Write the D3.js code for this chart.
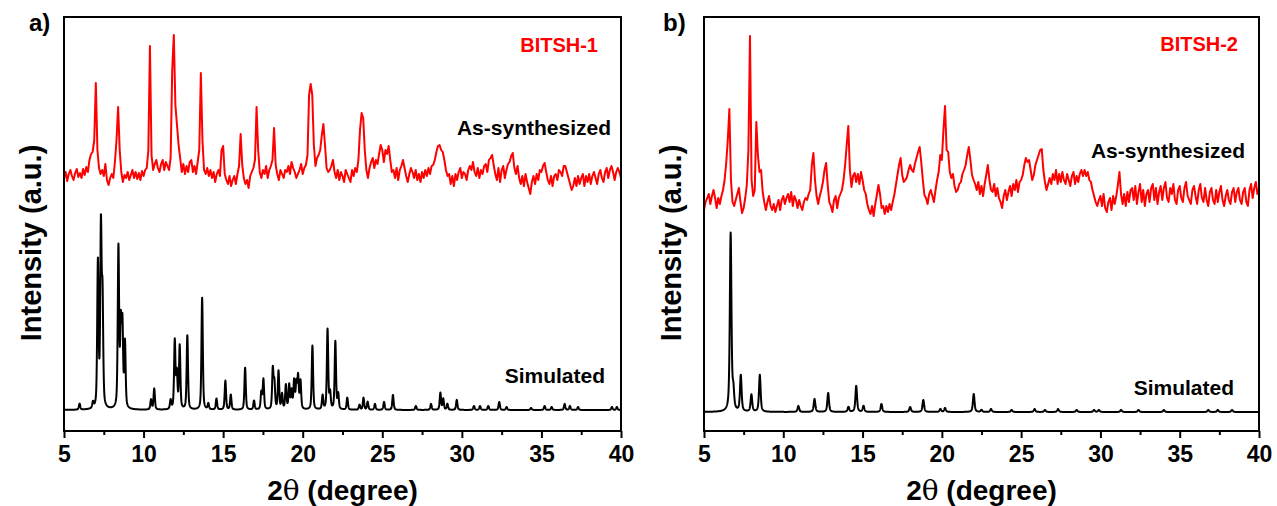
<!DOCTYPE html>
<html>
<head>
<meta charset="utf-8">
<script src="https://cdn.jsdelivr.net/npm/d3@7"></script>
<style>
  body { margin: 0; background: #fff; }
  svg { display: block; }
  text { font-family: "Liberation Sans", Arial, sans-serif; font-weight: bold; }
</style>
</head>
<body>
<svg id="chart" width="1277" height="506"></svg>
<script>
// ---- data -------------------------------------------------------------
const angleTicks = [5, 10, 15, 20, 25, 30, 35, 40];
const minorTicks = [7.5, 12.5, 17.5, 22.5, 27.5, 32.5, 37.5];
const panelLetters = ["a)", "b)"];
const sampleNames = ["BITSH-1", "BITSH-2"];
const traceNames = ["As-synthesized", "Simulated"];

// simulated reflections: [2θ (deg), intensity (a.u.)]
const simulated1 = [
  [5.98, 6], [6.82, 6], [7.13, 145], [7.32, 177], [7.42, 105], [8.42, 160], [8.57, 80],
  [8.67, 80], [8.83, 65], [10.47, 10], [10.67, 21], [11.70, 9], [11.96, 68], [12.09, 35],
  [12.27, 63], [12.75, 74], [13.68, 112], [14.07, 6], [14.58, 11], [15.14, 29], [15.48, 15],
  [16.38, 42], [16.94, 9], [17.40, 17], [17.53, 30], [18.12, 40], [18.22, 26], [18.48, 38],
  [18.70, 15], [18.94, 24], [19.15, 24], [19.30, 18], [19.46, 28], [19.60, 25], [19.71, 32],
  [19.86, 28], [20.61, 64], [21.25, 14], [21.56, 80], [21.72, 16], [22.05, 68], [22.23, 15],
  [22.80, 12], [23.57, 5], [23.82, 12], [24.08, 8], [24.54, 6], [25.11, 8], [25.67, 15],
  [27.11, 4], [28.06, 6], [28.65, 17], [28.83, 11], [29.09, 6], [29.68, 10], [30.76, 4],
  [31.14, 4], [31.66, 4], [32.35, 8], [32.81, 3], [34.35, 2], [35.20, 4], [35.64, 3],
  [36.46, 6], [36.79, 4], [37.30, 3], [39.43, 3], [39.74, 3]
];
const simulated2 = [
  [6.68, 178], [6.85, 18], [7.32, 36], [7.99, 17], [8.52, 37], [10.95, 6], [11.97, 13],
  [12.83, 19], [14.11, 5], [14.60, 26], [15.06, 6], [16.19, 8], [18.00, 5], [18.83, 12],
  [19.91, 3], [20.20, 4], [22.01, 18], [22.50, 2], [23.10, 3], [24.40, 2], [25.85, 3],
  [26.50, 2], [27.33, 3], [28.50, 2], [29.60, 2], [29.90, 2], [31.30, 2], [32.40, 2],
  [34.00, 2], [36.80, 2], [37.40, 2], [38.30, 2]
];

// measured patterns, 2θ = 5.0 ... 40.0 in 0.1 deg steps (a.u.)
const experimental1 = [
  22,28,19,26,30,24,20,27,31,23,
  27,22,31,25,33,28,40,46,48,60,
  117,50,32,26,30,24,36,20,15,22,
  26,22,38,60,93,50,28,18,25,22,
  28,20,25,30,22,28,21,27,20,29,
  24,30,32,50,154,45,30,36,40,32,
  28,36,40,30,38,34,30,42,130,165,
  95,75,55,42,28,36,26,34,28,38,
  40,28,34,26,38,50,127,60,30,26,
  32,24,30,22,28,18,26,30,24,50,
  54,26,20,16,24,14,20,24,16,26,
  34,66,35,22,16,20,12,24,28,32,
  40,93,50,28,22,30,26,34,22,30,
  34,40,72,35,26,20,30,26,22,30,
  28,34,26,38,32,28,22,26,30,36,
  26,32,35,45,105,116,105,55,34,42,
  45,50,65,76,55,32,28,30,34,40,
  28,22,30,20,28,24,18,30,26,22,
  18,30,24,32,28,40,70,87,82,50,
  30,22,32,38,42,32,40,36,46,55,
  50,38,50,46,54,40,28,30,22,32,
  20,30,34,40,32,24,18,26,32,28,
  22,30,20,26,18,28,22,30,24,32,
  26,34,35,40,48,54,55,50,48,40,
  30,24,26,16,24,14,26,20,28,32,
  22,28,26,20,30,34,30,38,28,24,
  32,22,30,26,34,36,28,40,42,45,
  35,26,20,32,18,30,34,22,30,36,
  38,44,47,32,26,34,22,16,24,14,
  26,18,12,6,18,24,16,26,20,30,
  28,34,37,28,20,16,24,14,24,26,
  20,30,28,24,34,34,28,22,16,10,
  14,22,14,24,16,22,26,14,24,18,
  26,16,24,28,22,16,26,30,22,18,
  28,32,22,30,34,28,20,28,32,28,
  22
];
const experimental2 = [
  10,18,22,26,16,24,30,22,12,22,
  16,24,30,40,57,80,111,40,18,14,
  20,26,32,18,7,12,22,35,70,184,
  40,24,30,98,65,48,50,28,18,10,
  18,24,14,10,16,8,14,20,10,20,
  24,16,22,26,18,28,14,24,20,12,
  20,14,10,18,22,20,26,30,55,67,
  40,24,16,24,30,38,50,57,35,18,
  14,8,20,24,12,22,26,30,40,55,
  75,94,50,33,44,47,38,46,36,48,
  40,30,26,16,10,6,14,4,16,25,
  35,26,12,14,6,14,8,16,10,18,
  25,35,45,55,62,45,38,40,43,50,
  55,50,48,56,62,68,73,58,40,25,
  22,16,26,30,24,18,30,40,48,65,
  60,90,114,70,68,48,42,46,34,28,
  30,36,38,46,50,55,65,73,60,45,
  40,36,30,38,26,34,24,36,45,55,
  40,30,28,36,24,32,22,18,12,24,
  30,20,28,34,24,36,30,40,28,38,
  40,45,55,62,58,60,50,40,45,55,
  60,65,70,71,50,38,30,36,42,36,
  46,40,50,36,46,38,48,40,36,46,
  40,34,44,48,36,44,38,46,50,44,
  50,44,48,40,38,30,24,18,14,20,
  24,14,26,12,8,18,22,10,24,16,
  24,35,48,26,16,26,14,28,18,30,
  32,20,34,16,28,36,18,30,14,26,
  30,18,32,36,20,32,16,28,34,20,
  32,38,22,18,32,26,36,20,16,30,
  34,22,18,32,38,24,20,16,30,34,
  24,16,30,36,22,18,32,20,14,28,
  32,20,16,30,18,28,34,20,14,24,
  30,20,16,28,32,18,28,32,20,16,
  28,32,18,14,30,36,22,32,38,26,
  32
];

// ---- layout -----------------------------------------------------------
const panels = [
  { left: 64,  right: 621,  sim: simulated1, exp: experimental1, simBase: 21, expBase: 231,
    fwhm: 0.1, eta: 0.5, letterX: 29, titleX: 41,
    labels: [[598, 52], [611, 135], [605, 383]] },
  { left: 704, right: 1259, sim: simulated2, exp: experimental2, simBase: 19, expBase: 211,
    fwhm: 0.12, eta: 0.6, letterX: 663, titleX: 681,
    labels: [[1238, 51], [1245, 158], [1234, 395]] }
];
const plotTop = 17, plotBottom = 431;

const svg = d3.select("#chart");

// pseudo-Voigt sum of reflections on a fine 2θ grid
function pattern(peaks, fwhm, eta) {
  const grid = d3.range(5, 40.0001, 0.01);
  return grid.map(t => [t, d3.sum(peaks, ([c, h]) => {
    const d = (t - c) / fwhm;
    return h * (eta / (1 + 4 * d * d) + (1 - eta) * Math.exp(-4 * Math.LN2 * d * d));
  })]);
}

panels.forEach((p, i) => {
  const x = d3.scaleLinear().domain([5, 40]).range([p.left, p.right]);
  const y = d3.scaleLinear().domain([0, 414]).range([plotBottom, plotTop]);
  const g = svg.append("g");

  // simulated trace
  g.append("path")
    .datum(pattern(p.sim, p.fwhm, p.eta))
    .attr("fill", "none").attr("stroke", "#000").attr("stroke-width", 2)
    .attr("stroke-linejoin", "round")
    .attr("d", d3.line().x(d => x(d[0])).y(d => y(p.simBase + d[1])));

  // measured trace
  const angles = p.exp.map((_, k) => 5 + k * 0.1);
  g.append("path")
    .datum(p.exp.map((v, k) => [angles[k], v]))
    .attr("fill", "none").attr("stroke", "#ff0000").attr("stroke-width", 2)
    .attr("stroke-linejoin", "round")
    .attr("d", d3.line().x(d => x(d[0])).y(d => y(p.expBase + d[1])));

  // frame
  g.append("rect")
    .attr("x", p.left).attr("y", plotTop)
    .attr("width", p.right - p.left).attr("height", plotBottom - plotTop)
    .attr("fill", "none").attr("stroke", "#000").attr("stroke-width", 2);

  // bottom axis: minor then major ticks
  const minor = g.append("g").attr("transform", `translate(0,${plotBottom})`)
    .call(d3.axisBottom(x).tickValues(minorTicks).tickSize(4).tickFormat(""));
  minor.select(".domain").remove();
  minor.selectAll("line").attr("stroke-width", 2);

  const major = g.append("g").attr("transform", `translate(0,${plotBottom})`)
    .call(d3.axisBottom(x).tickValues(angleTicks).tickSize(7).tickPadding(8).tickFormat(d3.format("d")));
  major.select(".domain").remove();
  major.selectAll("line").attr("stroke-width", 2);
  major.selectAll("text").attr("font-size", 23).attr("fill", "#000")
    .attr("font-family", "'Liberation Sans', Arial, sans-serif").attr("font-weight", "bold");

  // axis titles
  const title = g.append("text")
    .attr("x", (p.left + p.right) / 2).attr("y", 500)
    .attr("text-anchor", "middle").attr("font-size", 28);
  title.append("tspan").text("2");
  title.append("tspan").attr("font-family", "'DejaVu Serif', serif").attr("font-weight", "normal").text("θ");
  title.append("tspan").text(" (degree)");

  g.append("text")
    .attr("transform", `translate(${p.titleX},243) rotate(-90)`)
    .attr("text-anchor", "middle").attr("font-size", 29)
    .text("Intensity (a.u.)");

  // panel letter
  g.append("text").attr("x", p.letterX).attr("y", 31)
    .attr("font-size", 24).text(panelLetters[i]);

  // trace labels
  g.append("text").attr("x", p.labels[0][0]).attr("y", p.labels[0][1])
    .attr("text-anchor", "end").attr("font-size", 20).attr("fill", "#ff0000")
    .text(sampleNames[i]);
  g.append("text").attr("x", p.labels[1][0]).attr("y", p.labels[1][1])
    .attr("text-anchor", "end").attr("font-size", 21).attr("fill", "#000")
    .text(traceNames[0]);
  g.append("text").attr("x", p.labels[2][0]).attr("y", p.labels[2][1])
    .attr("text-anchor", "end").attr("font-size", 21).attr("fill", "#000")
    .text(traceNames[1]);
});
</script>
</body>
</html>
